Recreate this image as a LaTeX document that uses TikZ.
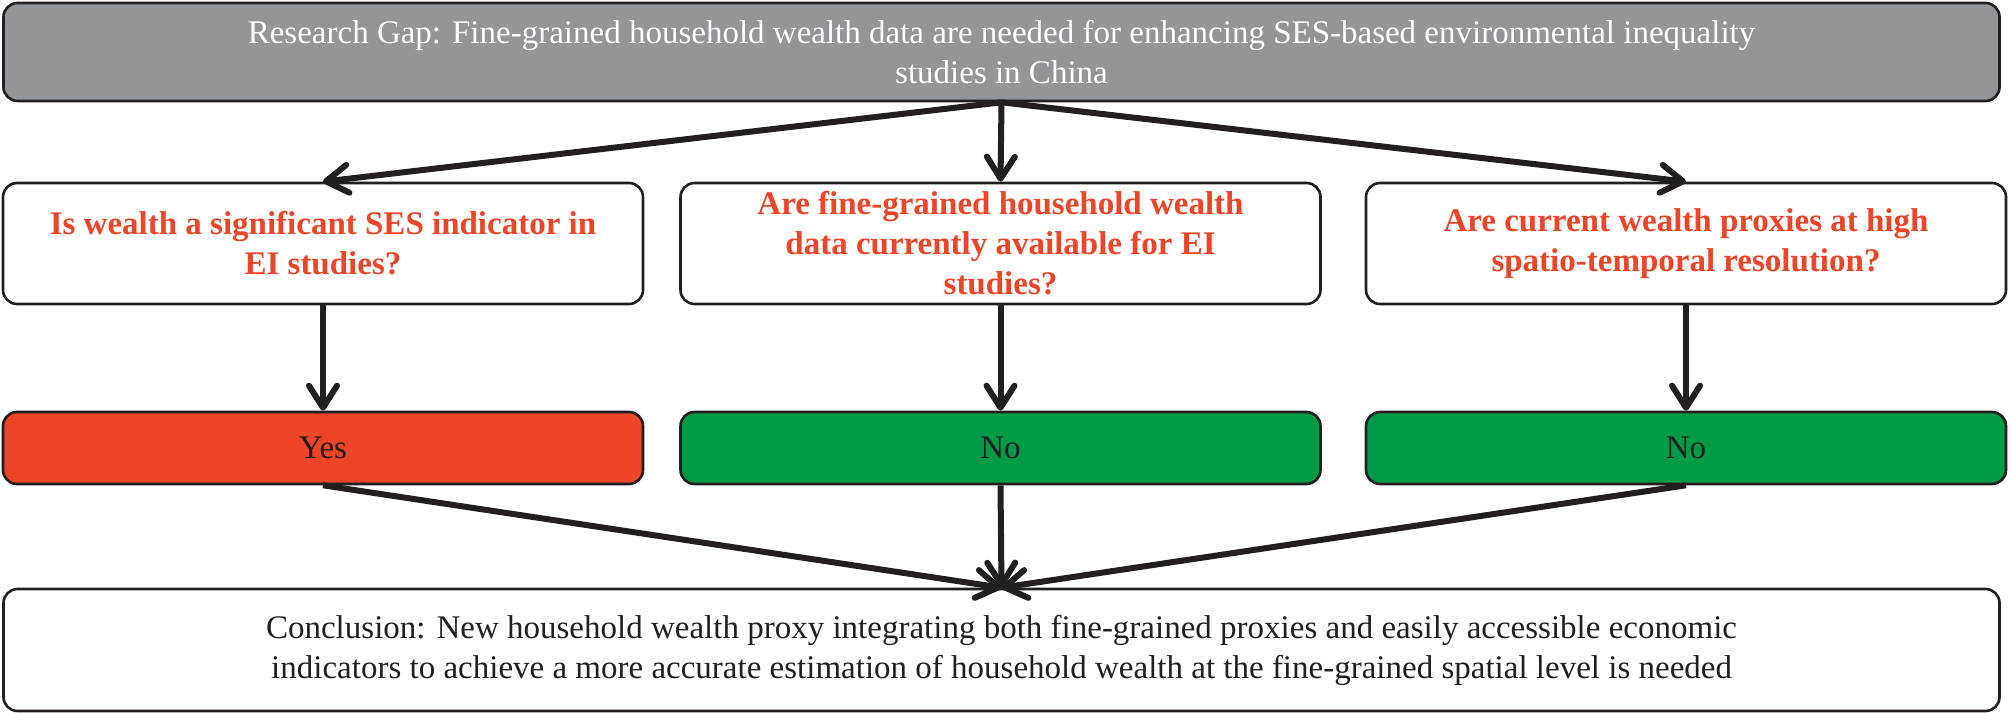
\documentclass[tikz,border=0pt]{standalone}
\usepackage{fontspec}
\setmainfont{Liberation Serif}
\usetikzlibrary{arrows.meta}

\definecolor{gapgray}{RGB}{147,149,152}
\definecolor{yesred}{RGB}{238,68,39}
\definecolor{nogreen}{RGB}{0,155,72}
\definecolor{inkblack}{RGB}{35,31,32}

\begin{document}
\begin{tikzpicture}[x=0.5pt, y=0.5pt, >={Straight Barb[round,length=11pt,width=14pt]},
    box/.style={draw=inkblack, line width=1.3pt, rounded corners=7pt, inner sep=0pt,
        align=center, font=\fontsize{16.5}{20}\selectfont},
    widebox/.style={box, minimum width=998pt},
    askbox/.style={box, fill=white, text=yesred, font=\fontsize{16.5}{20}\selectfont\bfseries,
        minimum width=320pt, minimum height=60.5pt},
    replybox/.style={box, text=inkblack, minimum width=320pt, minimum height=36pt},
    flow/.style={->, line width=3pt, draw=inkblack}]

    \useasboundingbox (0,0) rectangle (2012,712);

    % Research gap on top
    \node[widebox, fill=gapgray, text=white, minimum height=49pt] (gap) at (1001.5,660)
        {Research Gap: Fine-grained household wealth data are needed for enhancing SES-based environmental inequality\\
         studies in China};

    % The three questions
    \node[askbox] (q1) at (323,468.5) {Is wealth a significant SES indicator in\\ EI studies?};
    \node[askbox] (q2) at (1000.5,468.5) {Are fine-grained household wealth\\ data currently available for EI\\ studies?};
    \node[askbox] (q3) at (1686,468.5) {Are current wealth proxies at high\\ spatio-temporal resolution?};

    % The answers
    \node[replybox, fill=yesred] (a1) at (323,264) {Yes};
    \node[replybox, fill=nogreen] (a2) at (1000.5,264) {No};
    \node[replybox, fill=nogreen] (a3) at (1686,264) {No};

    % Conclusion at the bottom
    \node[widebox, fill=white, text=inkblack, minimum height=61pt] (concl) at (1001.5,62)
        {Conclusion: New household wealth proxy integrating both fine-grained proxies and easily accessible economic\\
         indicators to achieve a more accurate estimation of household wealth at the fine-grained spatial level is needed};

    % Arrows from the gap to the questions
    \draw[flow] (gap.south) -- (q1.north);
    \draw[flow] (gap.south) -- (q2.north);
    \draw[flow] (gap.south) -- (q3.north);

    % Questions to answers, answers to the conclusion
    \foreach \i in {1,2,3} {
        \draw[flow] (q\i.south) -- (a\i.north);
        \draw[flow] (a\i.south) -- (concl.north);
    }

\end{tikzpicture}
\end{document}
